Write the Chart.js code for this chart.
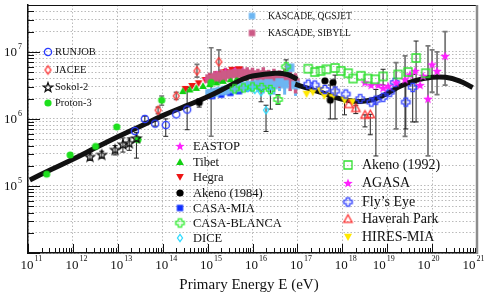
<!DOCTYPE html>
<html>
<head>
<meta charset="utf-8">
<script src="https://cdn.jsdelivr.net/npm/chart.js@4.4.0/dist/chart.umd.min.js"></script>
<style>
html, body { margin: 0; padding: 0; background: #fff; }
#wrap { position: relative; width: 486px; height: 294px; }
</style>
</head>
<body>
<div id="wrap"><canvas id="spectrum" width="486" height="294"></canvas></div>
<script>
// ---- data (energy in eV, y = scaled flux) ----
const xDecades = [11, 12, 13, 14, 15, 16, 17, 18, 19, 20, 21];
const yDecades = [5, 6, 7];

// fitted spectrum, two pieces
const fitLowE = [1.1e11, 3.2e11, 1e12, 3.2e12, 1e13, 3.2e13, 1e14, 3.2e14, 1e15, 3.2e15, 6e15, 1e16, 3.2e16, 6e16, 1e17];
const fitLowF = [1.23e5, 1.74e5, 2.5e5, 3.7e5, 5.4e5, 7.8e5, 1.12e6, 1.55e6, 2.14e6, 3.16e6, 3.9e6, 4.37e6, 4.8e6, 4.6e6, 3.9e6];
const fitHighE = [8.9e16, 1.6e17, 3.2e17, 6.3e17, 1.26e18, 2.5e18, 5e18, 1e19, 2e19, 4e19, 1e20, 2e20, 4e20, 8e20];
const fitHighF = [3.3e6, 2.9e6, 2.5e6, 2.14e6, 1.9e6, 1.82e6, 1.95e6, 2.4e6, 3.1e6, 3.7e6, 4.17e6, 4.17e6, 3.7e6, 2.95e6];

const runjobE = [2.4e13, 4e13, 6.8e13, 1.17e14, 2e14, 3.5e14];
const runjobF = [6.6e5, 1.0e6, 8.5e5, 8.1e5, 1.17e6, 1.38e6];
const runjobLo = [null, 9.2e5, 7.8e5, 5.5e5, null, 6.9e5];
const runjobHi = [null, 1.1e6, 9.3e5, 1.0e6, null, 2.95e6];

const jaceeE = [7.9e13, 2e14, 5.8e14, 1.78e15];
const jaceeF = [1.35e6, 2.2e6, 5.2e6, 7.1e6];
const jaceeLo = [1.2e6, 1.95e6, 4.2e6, 3.5e6];
const jaceeHi = [1.5e6, 2.5e6, 6.5e6, 1.07e7];

const sokolE = [2.4e12, 4.4e12, 8.7e12, 1.3e13, 1.8e13, 2.6e13];
const sokolF = [2.75e5, 2.95e5, 3.5e5, 4.2e5, 4.4e5, 5.2e5];
const sokolLo = [2.4e5, 2.6e5, 2.9e5, 3.2e5, 3.4e5, 2.6e5];
const sokolHi = [3.1e5, 3.3e5, 4.0e5, 5.2e5, 5.2e5, 6.3e5];

const protonE = [2.6e11, 8.7e11, 3.2e12, 9.5e12, 2.8e13, 9.5e13, 1.2e15];
const protonF = [1.5e5, 2.9e5, 3.9e5, 7.6e5, 4.9e5, 1.9e6, 3.5e6];
const protonLo = [null, null, null, null, null, 1.6e6, 5.5e5];
const protonHi = [null, null, null, null, null, 2.2e6, 1.15e7];

const eastopE = [1e15, 1.6e15, 2.5e15, 4e15, 6.3e15];
const eastopF = [3.9e6, 4.6e6, 5.0e6, 5.2e6, 5.0e6];

const tibetE = [2.8e14, 4e14, 5.6e14, 7.9e14, 1.12e15, 1.58e15, 2.2e15, 3.2e15, 4.5e15, 6.3e15];
const tibetF = [2.6e6, 2.75e6, 2.9e6, 3.1e6, 3.3e6, 3.5e6, 3.7e6, 3.9e6, 4.0e6, 4.1e6];

const hegraE = [3.2e14, 4.5e14, 6.3e14, 8.9e14, 1.26e15, 1.78e15, 2.5e15, 3.5e15, 5e15];
const hegraF = [2.8e6, 3.1e6, 3.4e6, 3.8e6, 4.2e6, 4.6e6, 5.0e6, 5.4e6, 5.5e6];

const akeno84E = [6.5e14, 4.1e17, 5.4e17, 6.2e17];
const akeno84F = [1.75e6, 3.7e6, 1.9e6, 3.5e6];
const akeno84Lo = [1.5e6, null, 1.0e6, null];
const akeno84Hi = [2.0e6, null, 3.2e6, null];

const casaMiaE = [1.26e15, 2e15, 3.2e15, 5e15, 7.9e15, 1.26e16];
const casaMiaF = [2.2e6, 2.3e6, 2.45e6, 2.6e6, 2.9e6, 3.2e6];

const blancaE = [4e15, 6.3e15, 1e16, 1.6e16, 2.5e16, 3.7e16, 5.6e16];
const blancaF = [2.8e6, 2.9e6, 3.0e6, 2.95e6, 2.75e6, 1.95e6, 6.0e6];
const blancaLo = [null, null, null, null, null, 1.65e6, 5.2e6];
const blancaHi = [null, null, null, null, null, 2.3e6, 7.6e6];

const diceE = [7.9e15, 1.12e16, 1.55e16, 2e16, 2.5e16];
const diceF = [2.9e6, 2.7e6, 2.5e6, 1.35e6, 2.55e6];
const diceLo = [null, null, 1.8e6, 6.5e5, 1.4e6];
const diceHi = [null, null, 2.7e6, 1.6e6, 2.8e6];

const akeno92E = [1.74e17, 2.45e17, 3.3e17, 4.4e17, 6.9e17, 9.3e17, 1.35e18, 1.74e18, 2.6e18, 3.7e18, 5.4e18, 8.1e18, 1.74e19, 2.9e19, 4.4e19, 7.2e19];
const akeno92F = [5.6e6, 5.0e6, 5.2e6, 5.5e6, 5.75e6, 5.2e6, 4.8e6, 4.0e6, 4.4e6, 4.0e6, 3.9e6, 4.3e6, 4.6e6, 5.0e6, 8.1e6, 4.8e6];
const akeno92Lo = [null, null, null, null, null, null, null, null, null, null, null, 3.2e6, null, null, 9e5, null];
const akeno92Hi = [null, null, null, null, null, null, null, null, null, null, null, 5.5e6, null, null, 1.45e7, null];

const agasaE = [3.2e18, 4.4e18, 6.3e18, 8.1e18, 1.05e19, 1.58e19, 2.5e19, 3.2e19, 4.2e19, 5.4e19, 6.3e19, 8.1e19, 1e20, 1.29e20, 1.95e20];
const agasaF = [3.5e6, 3.2e6, 3.2e6, 2.9e6, 3.1e6, 3.5e6, 3.9e6, 4.6e6, 5.2e6, 3.2e6, 4.4e6, 2.0e6, 6.5e6, 5.2e6, 8.7e6];
const agasaLo = [null, null, null, null, null, 7.1e5, 5.5e5, null, null, null, null, 2.8e5, 2.5e6, 2.3e6, 3.2e6];
const agasaHi = [null, null, null, null, null, 6.9e6, 8.7e6, null, null, null, null, 1.23e7, 1.07e7, 1.0e7, 2.0e7];

const flysE = [1.74e17, 2.45e17, 4.1e17, 6.9e17, 1.2e18, 2.5e18, 4.4e18, 5.6e18, 8.1e18, 1.15e19, 1.48e19, 2.6e19, 3.7e19];
const flysF = [3.3e6, 3.2e6, 2.75e6, 2.6e6, 2.35e6, 2.0e6, 1.78e6, 1.9e6, 2.1e6, 2.5e6, 3.5e6, 1.78e6, 2.95e6];
const flysLo = [null, null, null, 1.0e6, null, null, null, 2.8e5, null, null, null, 7.1e5, 9e5];
const flysHi = [null, null, null, 4.5e6, null, null, null, 2.75e6, null, null, null, 3.7e6, 4.6e6];

const haverahE = [1.4e18, 2e18, 3.2e18, 4.2e18];
const haverahF = [1.66e6, 1.45e6, 1.15e6, 1.17e6];
const haverahLo = [null, 1.2e6, 7.6e5, 5.8e5];
const haverahHi = [null, 1.6e6, 1.15e6, 1.17e6];

const hiresE = [1.6e17, 2.2e17, 3.2e17, 4e17, 6e17, 1.12e18, 1.66e18];
const hiresF = [2.35e6, 2.5e6, 2.7e6, 2.2e6, 2.1e6, 1.9e6, 1.78e6];
const hiresLo = [null, null, null, null, null, 1.15e6, null];
const hiresHi = [null, null, null, null, null, 1.9e6, null];

const kascadeE = [1.1e15, 1.45e15, 1.9e15, 2.5e15, 3.3e15, 4.4e15, 5.8e15, 7.6e15, 1.0e16, 1.32e16, 1.74e16, 2.3e16, 3.0e16, 4.0e16, 5.2e16, 6.9e16, 9.1e16];
const sibyllF = [4.0e6, 4.2e6, 4.4e6, 4.6e6, 4.7e6, 4.8e6, 4.8e6, 4.7e6, 4.6e6, 4.4e6, 4.6e6, 4.2e6, 4.3e6, 4.0e6, 4.2e6, 3.8e6, 3.5e6];
const sibyllLo = [3.2e6, 3.4e6, 3.5e6, 3.6e6, 3.7e6, 3.8e6, 3.8e6, 3.7e6, 3.6e6, 3.4e6, 3.5e6, 3.2e6, 3.2e6, 2.9e6, 3.0e6, 2.6e6, 2.4e6];
const sibyllHi = [4.9e6, 5.2e6, 5.5e6, 5.8e6, 5.9e6, 6.0e6, 6.0e6, 5.9e6, 5.8e6, 5.6e6, 5.9e6, 5.4e6, 5.6e6, 5.3e6, 5.6e6, 5.1e6, 4.8e6];
const qgsjetF = [2.4e6, 2.5e6, 2.6e6, 2.7e6, 2.8e6, 2.9e6, 3.0e6, 3.1e6, 3.2e6, 3.3e6, 3.3e6, 3.4e6, 3.2e6, 3.5e6, 3.3e6, 5.8e6, 3.2e6];
const qgsjetLo = [2.0e6, 2.1e6, 2.2e6, 2.25e6, 2.3e6, 2.4e6, 2.45e6, 2.5e6, 2.5e6, 2.5e6, 2.4e6, 2.5e6, 2.3e6, 2.6e6, 2.3e6, 4.6e6, 2.2e6];
const qgsjetHi = [2.8e6, 2.9e6, 3.0e6, 3.15e6, 3.3e6, 3.4e6, 3.55e6, 3.7e6, 3.9e6, 4.0e6, 4.1e6, 4.2e6, 4.0e6, 4.4e6, 4.2e6, 6.6e6, 4.1e6];

// ---- marker images ----
function marker(shape, stroke, fill, r) {
  const s = Math.ceil(r * 2 + 4);
  const cv = document.createElement("canvas");
  cv.width = s; cv.height = s;
  const g = cv.getContext("2d");
  const c = s / 2;
  g.beginPath();
  if (shape === "circle") {
    g.arc(c, c, r, 0, Math.PI * 2);
  } else if (shape === "square") {
    g.rect(c - r, c - r, 2 * r, 2 * r);
  } else if (shape === "diamond") {
    g.moveTo(c, c - r); g.lineTo(c + r * 0.7, c); g.lineTo(c, c + r); g.lineTo(c - r * 0.7, c); g.closePath();
  } else if (shape === "tri") {
    g.moveTo(c, c - r); g.lineTo(c + r, c + r * 0.8); g.lineTo(c - r, c + r * 0.8); g.closePath();
  } else if (shape === "triDown") {
    g.moveTo(c, c + r); g.lineTo(c + r, c - r * 0.8); g.lineTo(c - r, c - r * 0.8); g.closePath();
  } else if (shape === "star") {
    for (let i = 0; i < 10; i++) {
      const a = -Math.PI / 2 + i * Math.PI / 5;
      const rr = i % 2 ? r * 0.42 : r;
      const px = c + rr * Math.cos(a), py = c + 0.5 + rr * Math.sin(a);
      if (i === 0) g.moveTo(px, py); else g.lineTo(px, py);
    }
    g.closePath();
  } else if (shape === "plus") {
    const w = r * 0.4;
    g.moveTo(c - w, c - r); g.lineTo(c + w, c - r); g.lineTo(c + w, c - w); g.lineTo(c + r, c - w);
    g.lineTo(c + r, c + w); g.lineTo(c + w, c + w); g.lineTo(c + w, c + r); g.lineTo(c - w, c + r);
    g.lineTo(c - w, c + w); g.lineTo(c - r, c + w); g.lineTo(c - r, c - w); g.lineTo(c - w, c - w); g.closePath();
  }
  if (fill) { g.fillStyle = fill; g.fill(); }
  if (stroke) { g.lineWidth = 1.3; g.strokeStyle = stroke; g.stroke(); }
  return cv;
}

const mk = {
  runjob: marker("circle", "#2b3cff", null, 3.6),
  jacee: marker("diamond", "#ff3030", null, 4.2),
  sokol: marker("star", "#111", null, 4.8),
  proton: marker("circle", null, "#1ee01e", 3.6),
  eastop: marker("star", null, "#ff20ff", 4.8),
  tibet: marker("tri", null, "#10d010", 3.8),
  hegra: marker("triDown", null, "#ee1515", 3.8),
  akeno84: marker("circle", null, "#000", 3.6),
  casaMia: marker("square", null, "#1030ff", 3.2),
  blanca: marker("plus", "#30ee30", null, 4.2),
  dice: marker("diamond", "#30dcff", null, 3.6),
  akeno92: marker("square", "#30e030", null, 4.0),
  agasa: marker("star", null, "#ff20ff", 5.0),
  flys: marker("plus", "#3040ff", null, 4.2),
  haverah: marker("tri", "#ff3030", null, 4.2),
  hires: marker("triDown", null, "#ffe800", 4.0),
  qgsjet: marker("square", null, "#6db6f2", 4.2),
  sibyll: marker("square", null, "#cc5a86", 4.2)
};

function pts(e, f) {
  return e.map((x, i) => ({ x: x, y: f[i] }));
}

function points(label, e, f, m, lo, hi, extra) {
  return Object.assign({
    label: label,
    data: pts(e, f),
    pointStyle: m,
    pointRadius: 4,
    showLine: false,
    lo: lo || null,
    hi: hi || null,
    barColor: "#222",
    barWidth: 1,
    order: 1
  }, extra || {});
}

function fit(label, e, f) {
  return {
    label: label,
    data: pts(e, f),
    showLine: true,
    borderColor: "#111",
    borderWidth: 5,
    pointRadius: 0,
    tension: 0.4,
    order: 2
  };
}

// higher order is drawn first (further back)
const datasets = [
  points("EASTOP", eastopE, eastopF, mk.eastop, null, null, { order: 6 }),
  points("Tibet", tibetE, tibetF, mk.tibet, null, null, { order: 6 }),
  points("Hegra", hegraE, hegraF, mk.hegra, null, null, { order: 6 }),
  points("CASA-MIA", casaMiaE, casaMiaF, mk.casaMia, null, null, { order: 5 }),
  points("KASCADE, QGSJET", kascadeE, qgsjetF, mk.qgsjet, qgsjetLo, qgsjetHi, { barColor: "#6db6f2", barWidth: 3, order: 3 }),
  points("KASCADE, SIBYLL", kascadeE, sibyllF, mk.sibyll, sibyllLo, sibyllHi, { barColor: "#cc5a86", barWidth: 3.5, order: 4 }),
  fit("fit low", fitLowE, fitLowF),
  fit("fit high", fitHighE, fitHighF),
  points("RUNJOB", runjobE, runjobF, mk.runjob, runjobLo, runjobHi),
  points("JACEE", jaceeE, jaceeF, mk.jacee, jaceeLo, jaceeHi, { barColor: "#777", barWidth: 1.6 }),
  points("Sokol-2", sokolE, sokolF, mk.sokol, sokolLo, sokolHi),
  points("Proton-3", protonE, protonF, mk.proton, protonLo, protonHi, { barColor: "#777", barWidth: 1.6 }),
  points("Akeno (1984)", akeno84E, akeno84F, mk.akeno84, akeno84Lo, akeno84Hi),
  points("CASA-BLANCA", blancaE, blancaF, mk.blanca, blancaLo, blancaHi),
  points("DICE", diceE, diceF, mk.dice, diceLo, diceHi),
  points("Akeno (1992)", akeno92E, akeno92F, mk.akeno92, akeno92Lo, akeno92Hi),
  points("AGASA", agasaE, agasaF, mk.agasa, agasaLo, agasaHi, { barColor: "#7a7a7a", barWidth: 1.8 }),
  points("Fly\u2019s Eye", flysE, flysF, mk.flys, flysLo, flysHi),
  points("Haverah Park", haverahE, haverahF, mk.haverah, haverahLo, haverahHi),
  points("HIRES-MIA", hiresE, hiresF, mk.hires, hiresLo, hiresHi)
];

// legend blocks drawn inside the frame: [marker, text, x of marker, x of text, y, font size]
const legendItems = [
  [mk.runjob, "RUNJOB", 48, 55, 52, 10.5],
  [mk.jacee, "JACEE", 48, 55, 70, 10.5],
  [mk.sokol, "Sokol-2", 48, 55, 87, 10.5],
  [mk.proton, "Proton-3", 48, 55, 103, 10.5],
  [marker("square", null, "#6db6f2", 3.2), "KASCADE, QGSJET", 252, 268, 16, 9.5],
  [marker("square", null, "#cc5a86", 3.2), "KASCADE, SIBYLL", 252, 268, 33, 9.5],
  [mk.eastop, "EASTOP", 180, 193, 146, 12.5],
  [mk.tibet, "Tibet", 180, 193, 162, 12.5],
  [mk.hegra, "Hegra", 180, 193, 177, 12.5],
  [mk.akeno84, "Akeno (1984)", 180, 193, 193, 12.5],
  [mk.casaMia, "CASA-MIA", 180, 193, 208, 12.5],
  [mk.blanca, "CASA-BLANCA", 180, 193, 223, 12.5],
  [mk.dice, "DICE", 180, 193, 238, 12.5],
  [mk.akeno92, "Akeno (1992)", 348, 362, 165, 14],
  [mk.agasa, "AGASA", 348, 362, 183, 14],
  [mk.flys, "Fly\u2019s Eye", 348, 362, 202, 14],
  [mk.haverah, "Haverah Park", 348, 362, 219, 14],
  [mk.hires, "HIRES-MIA", 348, 362, 237, 14]
];

const serif = "'Liberation Serif', 'DejaVu Serif', serif";

const errorBars = {
  id: "errorBars",
  beforeDatasetsDraw(chart) {
    const ctx = chart.ctx, a = chart.chartArea;
    const xs = chart.scales.x, ys = chart.scales.y;
    ctx.save();
    ctx.beginPath();
    ctx.rect(a.left, a.top, a.right - a.left, a.bottom - a.top);
    ctx.clip();
    chart.data.datasets.forEach(ds => {
      if (!ds.lo) return;
      ctx.strokeStyle = ds.barColor;
      ctx.lineWidth = ds.barWidth;
      ds.data.forEach((p, i) => {
        if (ds.lo[i] == null) return;
        const px = xs.getPixelForValue(p.x);
        const y1 = ys.getPixelForValue(ds.lo[i]);
        const y2 = ys.getPixelForValue(ds.hi[i]);
        ctx.beginPath();
        ctx.moveTo(px, y1); ctx.lineTo(px, y2);
        if (ds.barWidth < 2.5) {
          ctx.moveTo(px - 2.5, y1); ctx.lineTo(px + 2.5, y1);
          ctx.moveTo(px - 2.5, y2); ctx.lineTo(px + 2.5, y2);
        }
        ctx.stroke();
      });
    });
    ctx.restore();
  }
};

const frame = {
  id: "frame",
  afterDraw(chart) {
    const ctx = chart.ctx, a = chart.chartArea;
    const xs = chart.scales.x, ys = chart.scales.y;
    ctx.save();
    // top and right edges
    ctx.strokeStyle = "#111";
    ctx.lineWidth = 1;
    ctx.beginPath(); ctx.moveTo(a.left, a.top + 0.5); ctx.lineTo(a.right, a.top + 0.5); ctx.stroke();
    ctx.strokeStyle = "#8c8c8c";
    ctx.lineWidth = 2.5;
    ctx.beginPath(); ctx.moveTo(a.right, a.top); ctx.lineTo(a.right, a.bottom + 1); ctx.stroke();

    // inward tick marks
    ctx.strokeStyle = "#111";
    ctx.lineWidth = 1;
    ctx.beginPath();
    for (let d = 11; d < 21; d++) {
      for (let k = 1; k <= 9; k++) {
        const px = Math.round(xs.getPixelForValue(k * Math.pow(10, d))) + 0.5;
        ctx.moveTo(px, a.bottom);
        ctx.lineTo(px, a.bottom - (k === 1 ? 9 : 5));
      }
    }
    for (let d = 4; d < 8; d++) {
      for (let k = 1; k <= 9; k++) {
        const v = k * Math.pow(10, d);
        if (v > ys.max) break;
        const py = Math.round(ys.getPixelForValue(v)) + 0.5;
        ctx.moveTo(a.left, py);
        ctx.lineTo(a.left + (k === 1 ? 12 : 6), py);
      }
    }
    ctx.stroke();

    // tick labels 10^n
    ctx.fillStyle = "#111";
    ctx.textBaseline = "middle";
    xDecades.forEach(d => {
      const px = xs.getPixelForValue(Math.pow(10, d)) + (d >= 19 ? -4.5 : 2.5);
      ctx.font = "13px " + serif;
      ctx.textAlign = "right";
      ctx.fillText("10", px + 3, 266);
      ctx.font = "8px " + serif;
      ctx.textAlign = "left";
      ctx.fillText(String(d), px + 4, 259);
    });
    yDecades.forEach(d => {
      const py = ys.getPixelForValue(Math.pow(10, d));
      ctx.font = "13px " + serif;
      ctx.textAlign = "right";
      ctx.fillText("10", 17, py + 1);
      ctx.font = "8px " + serif;
      ctx.textAlign = "left";
      ctx.fillText(String(d), 18, py - 5);
    });

    // axis title
    ctx.font = "15px " + serif;
    ctx.textAlign = "center";
    ctx.fillText("Primary Energy E (eV)", 249, 285);

    // legends
    legendItems.forEach(it => {
      const m = it[0];
      ctx.drawImage(m, it[2] - m.width / 2, it[4] - m.height / 2);
      ctx.font = it[5] + "px " + serif;
      ctx.textAlign = "left";
      ctx.fillStyle = "#111";
      ctx.fillText(it[1], it[3], it[4] + 0.5);
    });
    ctx.restore();
  }
};

const canvas = document.getElementById("spectrum");
const c = canvas.getContext("2d");

new Chart(c, {
  type: "scatter",
  data: { datasets: datasets },
  options: {
    responsive: false,
    animation: false,
    events: [],
    layout: { padding: { left: 28, right: 9, top: 1, bottom: 41 } },
    plugins: { legend: { display: false }, tooltip: { enabled: false } },
    scales: {
      x: {
        type: "logarithmic",
        min: 1e11,
        max: 1e21,
        afterBuildTicks: scale => {
          scale.ticks = xDecades.map(d => ({ value: Math.pow(10, d) }));
        },
        ticks: { display: false },
        grid: { color: "#a8a8a8", lineWidth: 0.8, drawTicks: false },
        border: { color: "#111", width: 1.5, dash: [1.5, 2] }
      },
      y: {
        type: "logarithmic",
        min: 1e4,
        max: 5e7,
        afterBuildTicks: scale => {
          const t = [];
          for (let d = 4; d < 8; d++) {
            for (let k = 1; k <= 9; k++) {
              const v = k * Math.pow(10, d);
              if (v <= 5e7) t.push({ value: v });
            }
          }
          scale.ticks = t;
        },
        ticks: { display: false },
        grid: { color: "#a8a8a8", lineWidth: 0.8, drawTicks: false },
        border: { color: "#111", width: 1.5, dash: [1.5, 2] }
      }
    }
  },
  plugins: [errorBars, frame]
});
</script>
</body>
</html>
